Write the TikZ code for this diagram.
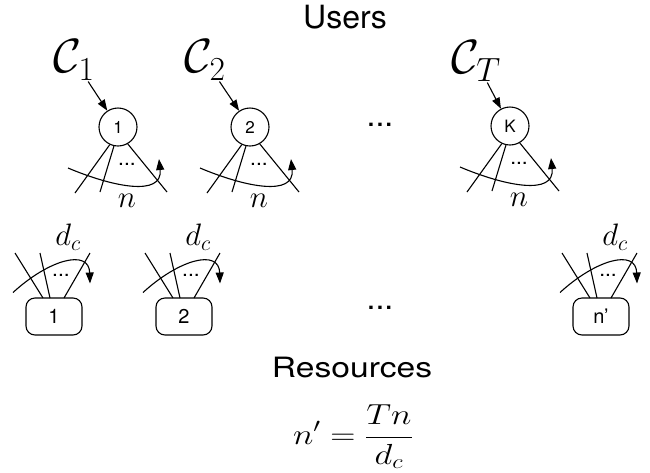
\RequirePackage{fix-cm}
\documentclass[tikz,border=0pt]{standalone}
\usepackage{graphicx}
\usepackage[no-math]{fontspec}
\setmainfont{TeX Gyre Heros}
\usetikzlibrary{arrows.meta,calc}
\begin{document}
\begin{tikzpicture}[x=1pt,y=-1pt,line width=1.1pt,
  arr/.style={-{Triangle[length=11pt,width=8pt]}},
  user/.style={circle,draw,minimum size=38pt,inner sep=0pt,font=\fontsize{17}{17}\selectfont},
  res/.style={rounded corners=9pt,draw,minimum width=56pt,minimum height=37pt,inner sep=0pt,font=\fontsize{20}{20}\selectfont},
  cls/.style={font=\fontsize{48}{48}\selectfont,inner sep=1pt},
  mlab/.style={font=\fontsize{31}{31}\selectfont,inner sep=0pt},
  sdots/.style={font=\fontsize{21}{21}\selectfont,inner sep=0pt},
  bdots/.style={font=\fontsize{32}{32}\selectfont,inner sep=0pt},
  title/.style={font=\fontsize{32}{32}\selectfont,inner sep=0pt}]
\path[use as bounding box] (0,0) rectangle (650,472);

\node[title] (users) at (345,17) {Users};
\node[title,font=\fontsize{28}{28}\selectfont] (resources) at (352,367) {\scalebox{1.2}[1]{Resources}};
\node[inner sep=0pt,font=\fontsize{29}{29}\selectfont] (formula) at (353,437) {\scalebox{1.2}[1]{$\displaystyle n' = \frac{Tn}{d_c}$}};

\node[cls] (C1) at (74,60) {$\mathcal{C}_1$};
\node[cls] (C2) at (205,60) {$\mathcal{C}_2$};
\node[cls] (CT) at (476,61) {$\mathcal{C}_T$};

\node[user] (u1) at (118,127) {1};
\node[user] (u2) at (250,127) {2};
\node[user] (uK) at (510,126) {K};
\node[bdots] (udots) at (380,125) {...};

\draw[arr] (C1) -- (u1);
\draw[arr] (C2) -- (u2);
\draw[arr] (CT) -- (uK);

\foreach \u in {u1,u2,uK}{
  \draw (\u.245) -- ($(\u)+(-43,66)$);
  \draw (\u.258) -- ($(\u)+(-18,65)$);
  \draw (\u.300) -- ($(\u)+(49,65)$);
  \draw[arr] ($(\u)+(-50,41)$) .. controls ($(\u)+(-5,60)$) and ($(\u)+(45,70)$) .. ($(\u)+(41,32)$);
  \node[sdots] (\u-dots) at ($(\u)+(9,37)$) {...};
  \node[mlab] (\u-n) at ($(\u)+(9,74)$) {$n$};
}

\node[res] (r1) at (54,316.5) {1};
\node[res] (r2) at (184,316.5) {2};
\node[res] (rn) at (601,316.5) {n’};
\node[bdots] (rdots) at (380,308) {...};

\foreach \r in {r1,r2,rn}{
  \draw ($(\r)+(-11,-18.5)$) -- ($(\r)+(-39,-63.5)$);
  \draw ($(\r)+(-4,-18.5)$) -- ($(\r)+(-14,-63.5)$);
  \draw ($(\r)+(10,-18.5)$) -- ($(\r)+(36,-63.5)$);
  \draw[arr] ($(\r)+(-41,-24)$) .. controls ($(\r)+(-5,-57)$) and ($(\r)+(35,-68)$) .. ($(\r)+(36,-33)$);
  \node[sdots] (\r-dots) at ($(\r)+(7,-41)$) {...};
  \node[mlab] (\r-d) at ($(\r)+(14,-79)$) {$d_c$};
}
\end{tikzpicture}
\end{document}
